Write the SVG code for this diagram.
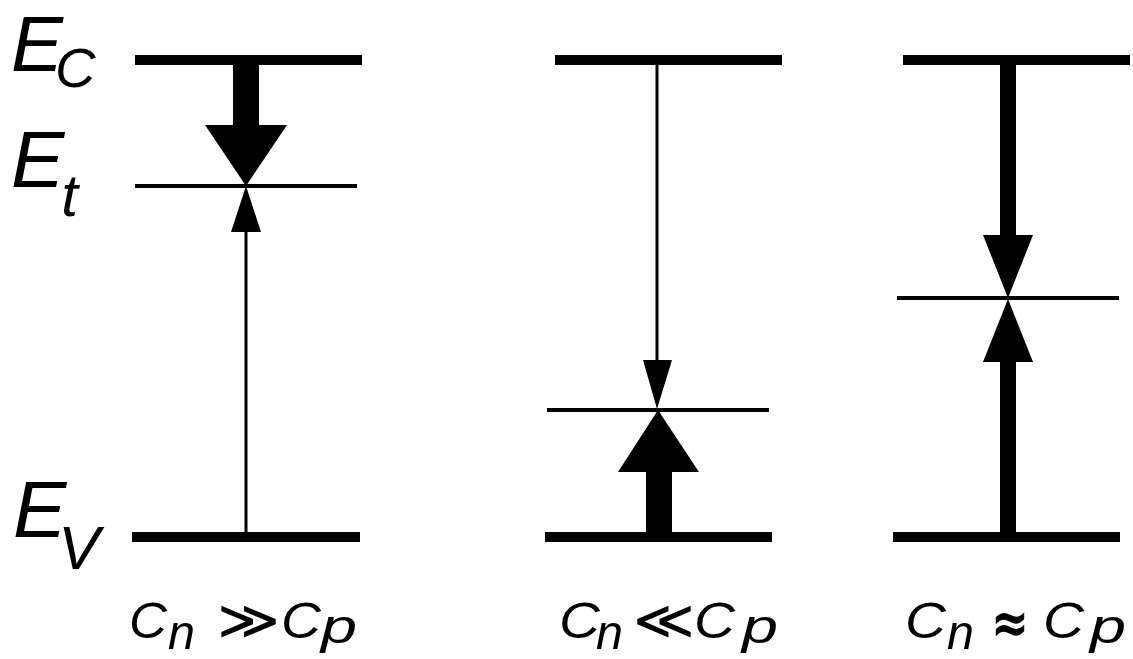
<svg xmlns="http://www.w3.org/2000/svg" width="1133" height="659" viewBox="0 0 1133 659">
<style>
.lvl{stroke:#000;stroke-width:10}
.trap{stroke:#000;stroke-width:4}
.thin{stroke:#000;stroke-width:3}
.lab{font-family:"Liberation Sans",Arial,sans-serif;font-style:italic;fill:#000}
.big{font-size:50px}
.sub{font-size:48px}
.sp{font-size:48px}
.rel{font-family:"DejaVu Sans",sans-serif;font-weight:bold;fill:#000}
</style>
<rect width="1133" height="659" fill="#fff"/>
<g id="axis-labels">
<text class="lab" x="11" y="71" font-size="78">E<tspan dx="-8" dy="16" font-size="56">C</tspan></text>
<text class="lab" x="11" y="187" font-size="80">E<tspan dx="-3" dy="29" font-size="60">t</tspan></text>
<text class="lab" x="13" y="537" font-size="80">E<tspan dx="-8" dy="32" font-size="62">V</tspan></text>
</g>
<g id="panel1">
<line class="lvl" x1="135" y1="60" x2="362" y2="60"/>
<line class="trap" x1="135" y1="186" x2="357" y2="186"/>
<line class="lvl" x1="132" y1="537" x2="360" y2="537"/>
<text class="lab big" x="129" y="638" textLength="38" lengthAdjust="spacingAndGlyphs">C</text>
<text class="lab sub" x="168" y="649" textLength="27" lengthAdjust="spacingAndGlyphs">n</text>
<text class="rel" x="217" y="636" font-size="46" textLength="63" lengthAdjust="spacingAndGlyphs">≫</text>
<text class="lab big" x="281" y="638" textLength="40" lengthAdjust="spacingAndGlyphs">C</text>
<text class="lab sp" x="321" y="643" textLength="36" lengthAdjust="spacingAndGlyphs">p</text>
</g>
<g id="panel2">
<line class="lvl" x1="555" y1="60" x2="782" y2="60"/>
<line class="trap" x1="547" y1="410" x2="769" y2="410"/>
<line class="lvl" x1="545" y1="537" x2="772" y2="537"/>
<text class="lab big" x="559" y="638" textLength="41" lengthAdjust="spacingAndGlyphs">C</text>
<text class="lab sub" x="596" y="649" textLength="27" lengthAdjust="spacingAndGlyphs">n</text>
<text class="rel" x="633" y="636" font-size="46" textLength="62" lengthAdjust="spacingAndGlyphs">≪</text>
<text class="lab big" x="694" y="638" textLength="41" lengthAdjust="spacingAndGlyphs">C</text>
<text class="lab sp" x="742" y="643" textLength="36" lengthAdjust="spacingAndGlyphs">p</text>
</g>
<g id="panel3">
<line class="lvl" x1="903" y1="60" x2="1130" y2="60"/>
<line class="trap" x1="897" y1="298" x2="1119" y2="298"/>
<line class="lvl" x1="893" y1="537" x2="1120" y2="537"/>
<text class="lab big" x="905" y="638" textLength="41" lengthAdjust="spacingAndGlyphs">C</text>
<text class="lab sub" x="947" y="649" textLength="27" lengthAdjust="spacingAndGlyphs">n</text>
<text class="rel" x="991" y="643" font-size="60" textLength="38" lengthAdjust="spacingAndGlyphs">≈</text>
<text class="lab big" x="1043" y="638" textLength="41" lengthAdjust="spacingAndGlyphs">C</text>
<text class="lab sp" x="1090" y="643" textLength="36" lengthAdjust="spacingAndGlyphs">p</text>
</g>
<g id="connectors">
<polygon points="233,65 259,65 259,125 287,125 246,186 205,125 233,125"/>
<line class="thin" x1="246" y1="537" x2="246" y2="230"/>
<polygon points="231,232 261,232 246,186"/>
<line class="thin" x1="657" y1="65" x2="657" y2="362"/>
<polygon points="643,360 672,360 657,409"/>
<polygon points="646,537 672,537 672,472 699,472 658,410 618,472 646,472"/>
<polygon points="1000,65 1016,65 1016,235 1033,235 1008,298 983,235 1000,235"/>
<polygon points="1000,537 1016,537 1016,362 1033,362 1008,299 983,362 1000,362"/>
</g>
</svg>
